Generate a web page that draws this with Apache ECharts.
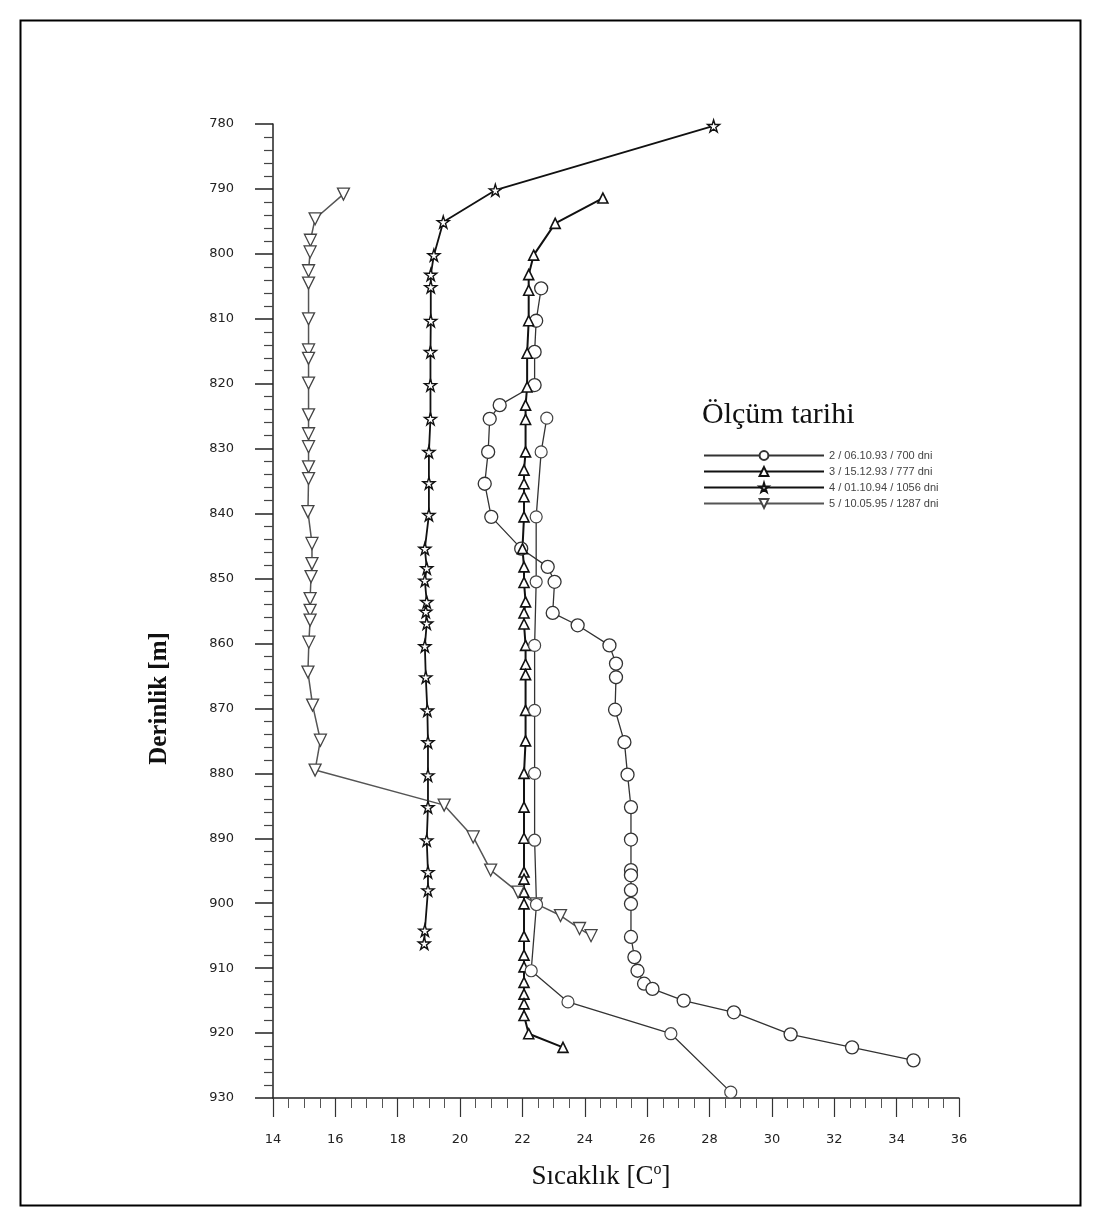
<!DOCTYPE html>
<html>
<head>
<meta charset="utf-8">
<script src="https://cdn.jsdelivr.net/npm/echarts@6/dist/echarts.min.js"></script>
<style>
html,body{margin:0;padding:0;background:#fff;}
#chart{width:1095px;height:1221px;}
</style>
</head>
<body>
<div id="chart"></div>
<script>
// ---- Data (temperature °C, depth m) ----
var seriesNames = ['2 / 06.10.93 / 700 dni', '3 / 15.12.93 / 777 dni', '4 / 01.10.94 / 1056 dni', '5 / 10.05.95 / 1287 dni'];

var s2Depth = [805.3, 810.3, 815.1, 820.2, 823.3, 825.4, 830.5, 835.4, 840.5, 845.4, 848.2, 850.5, 855.3, 857.2, 860.3, 863.1, 865.2, 870.2, 875.2, 880.2, 885.2, 890.2, 894.9, 895.7, 898.0, 900.1, 905.2, 908.3, 910.4, 912.4, 913.2, 915.0, 916.8, 920.2, 922.2, 924.2];
var s2Temp  = [22.6, 22.44, 22.39, 22.39, 21.27, 20.95, 20.9, 20.79, 21.0, 21.96, 22.81, 23.03, 22.97, 23.77, 24.79, 25.0, 25.0, 24.97, 25.27, 25.37, 25.48, 25.48, 25.48, 25.48, 25.48, 25.48, 25.48, 25.59, 25.69, 25.9, 26.17, 27.17, 28.78, 30.6, 32.57, 34.54];

var s3Depth = [791.4, 795.3, 800.2, 803.2, 805.6, 810.3, 815.3, 820.5, 823.3, 825.5, 830.5, 833.3, 835.4, 837.4, 840.5, 845.4, 848.2, 850.6, 853.6, 855.3, 857.0, 860.3, 863.2, 864.8, 870.3, 875.0, 880.0, 885.2, 890.0, 895.2, 896.3, 898.3, 900.1, 905.1, 908.0, 909.8, 912.2, 914.0, 915.5, 917.3, 920.1, 922.2];
var s3Temp  = [24.58, 23.05, 22.36, 22.2, 22.2, 22.2, 22.15, 22.15, 22.1, 22.1, 22.1, 22.05, 22.05, 22.05, 22.05, 22.0, 22.05, 22.05, 22.1, 22.05, 22.05, 22.1, 22.1, 22.1, 22.1, 22.1, 22.05, 22.05, 22.05, 22.05, 22.05, 22.05, 22.05, 22.05, 22.05, 22.05, 22.05, 22.05, 22.05, 22.05, 22.2, 23.3];

var s4Depth = [780.3, 790.2, 795.1, 800.2, 803.2, 805.1, 810.3, 815.1, 820.2, 825.4, 830.5, 835.3, 840.2, 845.4, 848.4, 850.3, 853.6, 855.1, 856.9, 860.4, 865.2, 870.3, 875.2, 880.3, 885.2, 890.3, 895.2, 898.0, 904.2, 906.2];
var s4Temp  = [28.13, 21.13, 19.46, 19.16, 19.06, 19.06, 19.06, 19.05, 19.05, 19.05, 19.0, 19.0, 19.0, 18.87, 18.93, 18.87, 18.93, 18.9, 18.93, 18.87, 18.9, 18.95, 18.97, 18.97, 18.97, 18.93, 18.97, 18.97, 18.87, 18.85];

var s5Depth = [790.8, 794.6, 797.9, 799.7, 802.6, 804.5, 810.0, 814.8, 816.1, 819.9, 824.8, 827.7, 829.7, 832.8, 834.6, 839.7, 844.6, 847.7, 849.7, 853.1, 854.9, 856.4, 859.8, 864.4, 869.5, 874.9, 879.5, 884.9, 889.8, 894.9, 898.3, 900.1, 901.9, 903.9, 905.0];
var s5Temp  = [16.26, 15.35, 15.2, 15.19, 15.14, 15.14, 15.14, 15.14, 15.14, 15.14, 15.14, 15.14, 15.14, 15.14, 15.14, 15.12, 15.25, 15.25, 15.22, 15.19, 15.19, 15.19, 15.15, 15.12, 15.27, 15.52, 15.35, 19.49, 20.42, 20.98, 21.86, 22.44, 23.22, 23.83, 24.2];

// unlabeled extra profile (circle-like markers, not in legend)
var s6Depth = [825.3, 830.5, 840.5, 850.5, 860.3, 870.3, 880.0, 890.3, 900.2, 910.4, 915.2, 920.1, 929.1];
var s6Temp  = [22.78, 22.6, 22.44, 22.44, 22.39, 22.39, 22.39, 22.39, 22.45, 22.28, 23.46, 26.76, 28.68];

var xTicks = [14, 16, 18, 20, 22, 24, 26, 28, 30, 32, 34, 36];
var yTicks = [780, 790, 800, 810, 820, 830, 840, 850, 860, 870, 880, 890, 900, 910, 920, 930];

function pairs(t, d) { return t.map(function (v, i) { return [v, d[i]]; }); }

var STAR = 'path://M50,0 L61,35 L98,35 L68,57 L79,91 L50,70 L21,91 L32,57 L2,35 L39,35 Z';

var chart = echarts.init(document.getElementById('chart'));
chart.setOption({
  backgroundColor: '#ffffff',
  animation: false,
  title: {
    text: 'Ölçüm tarihi',
    left: 697, top: 395,
    textStyle: { fontFamily: 'Liberation Serif', fontWeight: 'normal', fontSize: 30, color: '#111' }
  },
  legend: {
    data: seriesNames,
    orient: 'vertical',
    left: 698, top: 445,
    itemWidth: 120, itemHeight: 11, itemGap: 5,
    textStyle: { fontFamily: 'Liberation Sans', fontSize: 11, color: '#444' }
  },
  grid: { left: 273, right: 136, top: 124, bottom: 123, containLabel: false },
  xAxis: {
    type: 'value', min: xTicks[0], max: xTicks[xTicks.length - 1], interval: 2,
    name: 'Sıcaklık [C{sup|o}]',
    nameLocation: 'middle', nameGap: 64,
    nameTextStyle: {
      fontFamily: 'Liberation Serif', fontSize: 27, color: '#111', padding: [0, 30, 0, 0],
      rich: { sup: { fontFamily: 'Liberation Serif', fontSize: 16, verticalAlign: 'top', padding: [0, 0, 14, 0], color: '#111' } }
    },
    axisLine: { onZero: false, lineStyle: { color: '#222', width: 1.5 } },
    axisTick: { length: 19, lineStyle: { color: '#333', width: 1.2 } },
    minorTick: { show: true, splitNumber: 4, length: 10, lineStyle: { color: '#555', width: 1 } },
    axisLabel: { margin: 35, fontFamily: 'DejaVu Sans', fontSize: 13, color: '#222' },
    splitLine: { show: false }
  },
  yAxis: {
    type: 'value', inverse: true, min: yTicks[0], max: yTicks[yTicks.length - 1], interval: 10,
    name: 'Derinlik [m]',
    nameLocation: 'middle', nameGap: 101, nameRotate: 90,
    nameTextStyle: { fontFamily: 'Liberation Serif', fontWeight: 'bold', fontSize: 25, color: '#111', padding: [0, 175, 0, 0] },
    axisLine: { onZero: false, lineStyle: { color: '#222', width: 1.5 } },
    axisTick: { length: 18, lineStyle: { color: '#222', width: 1.5 } },
    minorTick: { show: true, splitNumber: 5, length: 9, lineStyle: { color: '#444', width: 1.2 } },
    axisLabel: { margin: 39, fontFamily: 'DejaVu Sans', fontSize: 13, color: '#222' },
    splitLine: { show: false }
  },
  series: [
    {
      name: seriesNames[0], type: 'line', data: pairs(s2Temp, s2Depth),
      symbol: 'circle', symbolSize: 13, showSymbol: true,
      lineStyle: { color: '#333', width: 1.3 },
      itemStyle: { color: '#fff', borderColor: '#333', borderWidth: 1.3 }
    },
    {
      name: seriesNames[1], type: 'line', data: pairs(s3Temp, s3Depth),
      symbol: 'triangle', symbolSize: 10,
      lineStyle: { color: '#111', width: 2 },
      itemStyle: { color: '#fff', borderColor: '#111', borderWidth: 1.6 }
    },
    {
      name: seriesNames[2], type: 'line', data: pairs(s4Temp, s4Depth),
      symbol: STAR, symbolSize: 12,
      lineStyle: { color: '#111', width: 1.8 },
      itemStyle: { color: '#fff', borderColor: '#111', borderWidth: 1.4 }
    },
    {
      name: seriesNames[3], type: 'line', data: pairs(s5Temp, s5Depth),
      symbol: 'triangle', symbolRotate: 180, symbolSize: 12,
      lineStyle: { color: '#555', width: 1.5 },
      itemStyle: { color: '#fff', borderColor: '#444', borderWidth: 1.3 }
    },
    {
      name: 'profil', type: 'line', data: pairs(s6Temp, s6Depth),
      symbol: 'circle', symbolSize: 12,
      lineStyle: { color: '#333', width: 1.3 },
      itemStyle: { color: '#fff', borderColor: '#444', borderWidth: 1.2 }
    }
  ],
  graphic: [
    {
      type: 'rect', left: 18, top: 18, silent: true,
      shape: { width: 1060, height: 1185 },
      style: { fill: 'none', stroke: '#000', lineWidth: 2 }
    }
  ]
});
</script>
</body>
</html>
